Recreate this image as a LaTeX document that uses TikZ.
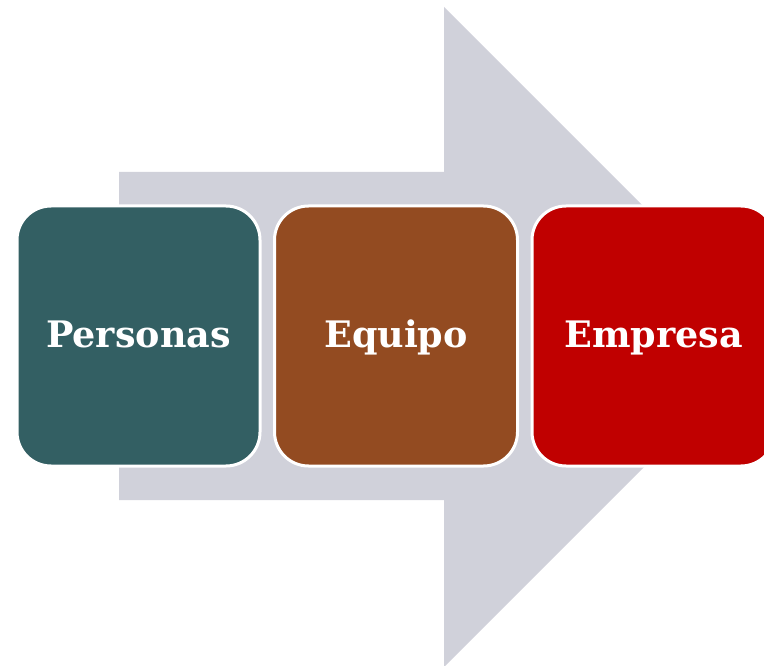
\documentclass[tikz,border=0pt]{standalone}
\usepackage{fontspec}
\newfontfamily\boxfont{DejaVu Serif}
\definecolor{arrowgrey}{HTML}{D0D1DA}
\definecolor{teal}{HTML}{335F63}
\definecolor{brownish}{HTML}{934B21}
\definecolor{redish}{HTML}{C00000}
\begin{document}
\begin{tikzpicture}[x=1pt,y=-1pt,
  card/.style={draw=white, line width=3pt, rounded corners=34pt,
    minimum width=243pt, minimum height=260pt, inner sep=0pt,
    text height=24pt, text depth=2pt,
    text=white, font=\boxfont\bfseries\fontsize{36.5}{42}\selectfont}]
\useasboundingbox (0,0) rectangle (764,666);
\clip (0,0) rectangle (764,666);
\fill[arrowgrey] (119,172) -- (444,172) -- (444,7) -- (774,337) -- (444,667) -- (444,500) -- (119,500) -- cycle;
\node[card, fill=teal] (personas) at (138.5,336) {Personas};
\node[card, fill=brownish] (equipo) at (396,336) {Equipo};
\node[card, fill=redish] (empresa) at (653.5,336) {Empresa};
\end{tikzpicture}
\end{document}
